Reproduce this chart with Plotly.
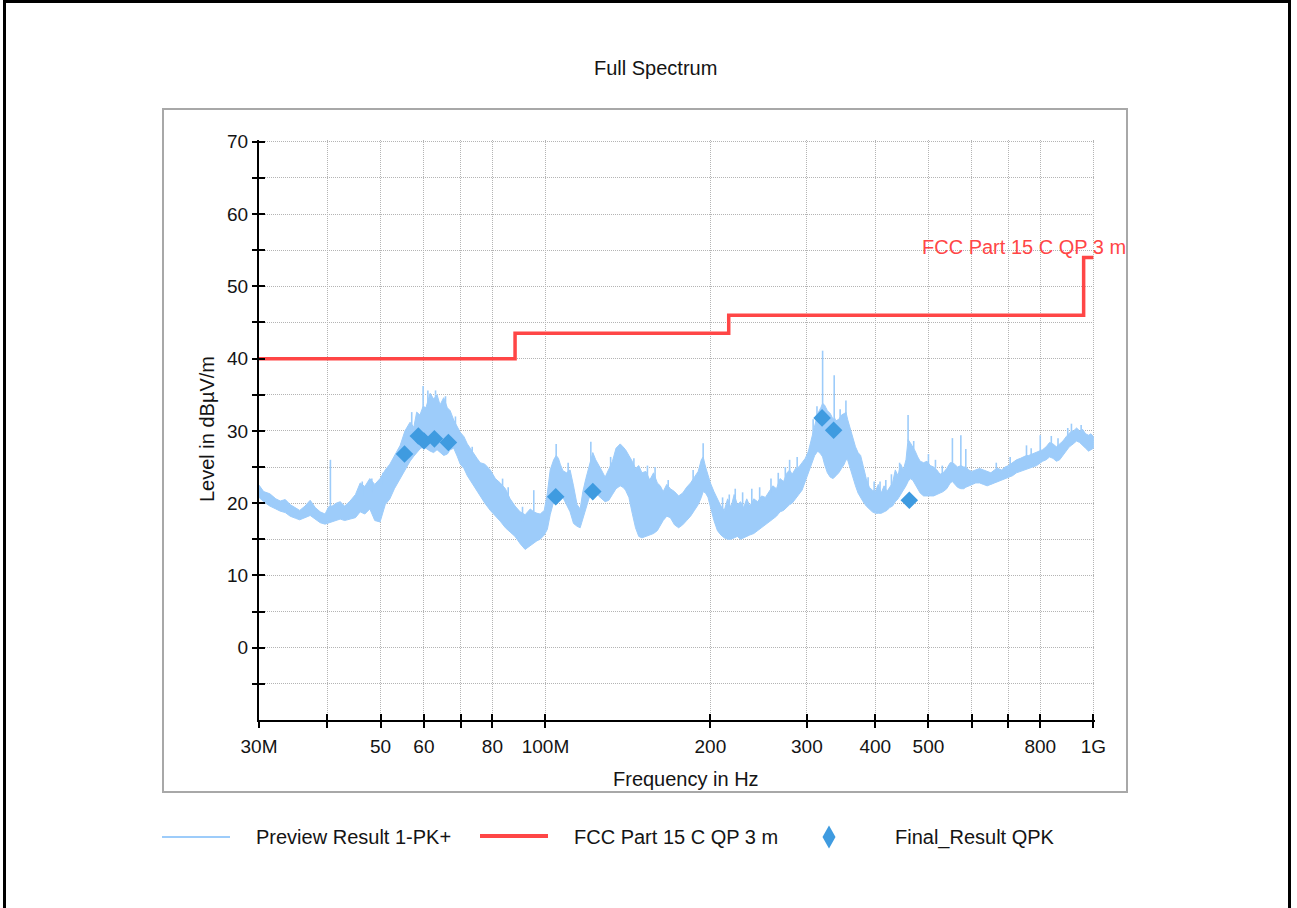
import math
import plotly.graph_objects as go

# ---- spectrum (peak detector), band drawn between lower / upper level per frequency ----
freq_mhz = [
    30.0, 30.6, 31.4, 32.2, 32.8, 33.5, 34.2, 35.0, 35.6, 36.4, 37.2, 38.0, 38.8, 39.6, 40.2,
    40.8, 41.5, 42.2, 43.0, 44.0, 45.0, 45.9, 46.8, 47.8, 48.8, 49.9, 51.0, 52.0, 53.0, 54.3,
    55.4, 56.6, 57.5, 58.2, 59.0, 59.8, 60.5, 61.6, 62.5, 63.4, 64.2, 65.2, 66.2, 67.0, 68.0,
    69.0, 69.9, 71.0, 72.0, 72.9, 74.0, 75.0, 76.0, 77.5, 79.3, 81.0, 82.7, 84.5, 86.2, 88.0,
    89.9, 91.8, 93.8, 95.2, 96.5, 97.8, 99.5, 100.8, 102.0, 103.5, 104.6, 105.6, 106.4, 107.6, 109.2,
    110.9, 112.5, 114.2, 115.7, 117.0, 118.5, 120.0, 121.0, 122.0, 123.5, 125.0, 126.5, 128.5, 130.5, 132.5,
    134.5, 136.9, 138.5, 140.0, 142.0, 144.0, 146.0, 148.0, 150.0, 152.5, 155.0, 157.5, 160.0, 162.0, 164.0,
    166.5, 169.0, 172.0, 175.0, 178.0, 181.0, 184.0, 187.0, 190.0, 192.5, 194.0, 196.0, 198.0, 200.0, 203.0,
    206.0, 209.0, 212.0, 215.0, 218.0, 221.0, 224.0, 227.0, 230.0, 233.0, 236.0, 240.0, 244.0, 248.0, 252.0,
    256.0, 260.0, 264.0, 268.0, 272.0, 276.0, 279.0, 282.0, 286.0, 290.0, 294.0, 298.0, 302.0, 306.0, 310.0,
    314.0, 318.0, 320.5, 323.0, 327.0, 331.0, 335.0, 337.0, 339.0, 343.0, 347.0, 351.0, 353.5, 356.0, 360.0,
    364.0, 368.0, 372.0, 376.0, 380.0, 385.0, 390.0, 395.0, 400.0, 405.0, 410.0, 415.0, 420.0, 425.0, 430.0,
    435.0, 440.0, 445.0, 450.0, 455.0, 459.0, 463.0, 468.0, 473.0, 478.0, 483.0, 490.0, 497.0, 504.0, 511.0,
    518.0, 525.0, 532.0, 540.0, 548.0, 553.0, 558.0, 565.0, 573.0, 580.0, 585.0, 592.0, 600.0, 610.0, 620.0,
    630.0, 640.0, 650.0, 660.0, 670.0, 680.0, 690.0, 700.0, 712.0, 724.0, 736.0, 748.0, 755.0, 762.0, 775.0,
    788.0, 800.0, 808.0, 820.0, 832.0, 844.0, 856.0, 868.0, 880.0, 892.0, 904.0, 912.0, 920.0, 932.0, 944.0,
    956.0, 968.0, 980.0, 990.0, 1000.0,
]
level_hi = [
    22.5, 21.6, 21.3, 20.6, 20.3, 20.5, 19.8, 19.3, 19.0, 19.6, 20.4, 19.4, 18.8, 18.5, 19.5,
    19.6, 20.0, 20.2, 19.6, 20.3, 21.2, 22.8, 22.3, 23.4, 22.6, 23.4, 24.6, 25.4, 26.5, 28.0,
    30.0, 31.2, 30.5, 32.6, 32.2, 33.4, 33.2, 35.2, 34.4, 35.0, 33.6, 34.6, 33.2, 32.8, 31.5,
    30.5, 29.8, 29.2, 28.2, 27.6, 26.8, 26.2, 25.6, 25.4, 24.6, 23.4, 22.8, 22.0, 20.6, 19.6,
    18.8, 18.4, 19.2, 18.8, 18.6, 18.5, 19.0, 21.4, 24.6, 26.0, 26.6, 26.2, 25.4, 24.5, 24.2,
    24.6, 22.4, 19.8, 19.2, 21.6, 23.4, 25.0, 26.0, 27.0, 26.0, 25.2, 24.6, 23.6, 24.6, 25.8,
    27.6, 28.2, 27.8, 27.4, 26.6, 25.8, 24.8, 25.2, 24.2, 24.4, 23.2, 24.2, 22.8, 22.4, 21.6,
    22.6, 22.0, 21.6, 21.0, 21.4, 22.2, 22.8, 23.6, 24.4, 26.0, 26.4, 25.0, 23.8, 22.8, 21.6,
    20.6, 19.6, 19.0, 20.6, 19.4, 21.2, 19.8, 20.2, 19.4, 20.6, 19.6, 20.6, 20.2, 21.0, 20.8,
    21.6, 22.4, 22.0, 23.4, 23.0, 24.2, 24.6, 24.0, 24.8, 25.0, 25.6, 26.2, 27.2, 29.0, 31.0,
    32.4, 33.2, 33.8, 33.6, 32.8, 32.4, 31.6, 31.8, 31.4, 31.6, 32.2, 32.4, 32.6, 31.6, 30.4,
    29.0, 27.8, 27.0, 26.6, 25.2, 23.4, 22.2, 21.8, 21.6, 22.6, 21.4, 22.4, 21.6, 22.2, 22.8,
    24.6, 23.8, 25.4, 24.6, 26.0, 28.8, 28.4, 27.8, 27.2, 26.4, 25.8, 25.6, 25.8, 25.2, 25.0,
    24.6, 24.0, 24.2, 24.8, 25.6, 25.6, 25.4, 25.0, 25.2, 25.0, 25.0, 24.6, 24.4, 24.6, 24.8,
    24.6, 24.4, 24.2, 24.6, 24.8, 24.6, 25.0, 25.2, 25.6, 26.0, 26.2, 26.4, 26.6, 26.6, 26.8,
    27.0, 27.2, 27.4, 27.8, 28.4, 28.2, 27.8, 28.2, 28.6, 29.2, 29.6, 30.0, 30.0, 30.4, 30.0,
    30.2, 29.6, 29.4, 29.6, 29.2,
]
level_lo = [
    20.8, 20.2, 19.6, 19.2, 18.9, 18.7, 18.2, 17.9, 17.7, 18.0, 18.3, 17.8, 17.3, 17.1, 17.2,
    17.4, 17.6, 17.8, 17.6, 17.8, 18.0, 18.8, 18.5, 19.2, 17.6, 17.4, 19.8, 20.6, 22.0, 23.4,
    24.5, 25.8, 26.5, 27.0, 27.5, 27.8, 27.6, 27.2, 27.0, 27.4, 27.0, 26.6, 26.8, 27.4, 27.6,
    26.5, 25.4, 24.8, 23.8, 23.2, 22.4, 21.6, 21.0, 20.0, 19.0, 18.2, 17.5, 16.6, 16.0, 15.4,
    14.4, 13.6, 14.2, 14.5, 14.8, 15.0, 15.6, 16.4, 18.4, 20.2, 20.6, 20.8, 21.0, 20.8, 19.8,
    18.8, 17.2, 16.8, 16.6, 17.6, 19.2, 20.6, 21.2, 21.4, 21.6, 21.0, 20.6, 20.2, 20.4, 21.2,
    22.0, 22.4, 22.2, 21.8, 20.8, 18.6, 16.6, 15.4, 15.2, 15.4, 15.6, 15.8, 16.2, 16.8, 17.6,
    18.2, 18.0, 17.0, 16.6, 17.0, 17.6, 18.2, 19.0, 19.8, 20.8, 21.6, 21.4, 20.8, 19.4, 17.6,
    16.2, 15.6, 15.2, 15.0, 15.0, 15.2, 15.4, 15.0, 15.2, 15.4, 15.6, 15.8, 16.2, 16.6, 17.0,
    17.4, 17.8, 18.2, 18.8, 19.0, 19.4, 19.8, 20.0, 20.6, 21.2, 21.8, 22.8, 24.0, 25.4, 26.6,
    27.2, 26.8, 26.4, 25.4, 24.2, 23.6, 23.4, 23.6, 23.8, 24.2, 24.8, 25.4, 26.0, 26.0, 25.0,
    23.6, 22.4, 21.4, 20.8, 20.2, 19.6, 19.2, 18.8, 18.6, 18.6, 18.6, 18.8, 19.0, 19.4, 19.6,
    20.2, 20.6, 21.2, 21.8, 22.4, 23.0, 23.4, 23.2, 22.6, 22.0, 21.4, 21.0, 21.0, 21.0, 21.0,
    21.2, 21.4, 21.6, 22.0, 22.8, 23.0, 22.6, 22.2, 22.0, 22.0, 22.2, 22.4, 22.6, 22.8, 22.8,
    22.6, 22.4, 22.6, 22.8, 23.0, 23.2, 23.4, 23.6, 23.8, 24.2, 24.4, 24.6, 24.8, 24.8, 25.0,
    25.2, 25.6, 25.8, 26.0, 26.4, 26.2, 25.8, 26.0, 26.6, 27.2, 27.8, 28.0, 28.2, 28.6, 28.4,
    28.0, 27.6, 27.2, 27.4, 27.6,
]

# narrow single-frequency emissions rising above the band
spike_freq = [
    40.5, 46.3, 48.2, 50.5, 57.0, 59.8, 61.0, 63.0, 65.7, 68.5, 73.5, 83.5, 85.5, 90.8, 95.2,
    104.6, 110.0, 121.0, 131.5, 145.0, 153.5, 158.5, 167.5, 186.0, 194.0, 210.5, 216.5, 222.0,
    229.0, 238.0, 246.0, 258.0, 266.0, 274.0, 279.0, 288.0, 308.0, 313.0, 320.5, 336.5, 345.0,
    353.5, 388.0, 398.0, 408.0, 418.0, 428.0, 443.0, 459.0, 470.0, 500.0, 515.0, 530.0, 553.0,
    573.0, 585.0, 665.0, 705.0, 755.0, 770.0, 800.0, 838.0, 862.0, 898.0, 912.0, 950.0,
]
spike_base = [
    19.5, 21.0, 21.5, 22.5, 29.5, 33.0, 33.0, 33.5, 32.8, 30.0, 26.0, 21.5, 20.5, 17.5, 18.8,
    26.0, 23.8, 25.5, 24.5, 24.5, 23.5, 23.0, 21.8, 23.0, 25.0, 19.0, 19.5, 19.8,
    19.6, 19.8, 20.2, 21.4, 22.4, 23.4, 24.5, 24.8, 29.5, 31.8, 33.5, 31.6, 31.6,
    32.2, 22.0, 21.5, 21.6, 21.8, 22.4, 24.0, 28.5, 27.4, 25.4, 24.8, 24.0, 25.4,
    25.0, 25.0, 24.6, 25.2, 26.4, 26.6, 27.0, 28.2, 27.8, 29.2, 30.0, 30.0,
]
spike_peak = [
    26.0, 23.0, 23.4, 24.2, 32.6, 36.2, 35.6, 35.6, 34.8, 32.0, 27.8, 23.4, 22.2, 19.5, 21.8,
    28.2, 25.6, 28.5, 26.4, 26.2, 25.2, 25.0, 23.2, 24.6, 28.3, 20.8, 21.2, 22.0,
    21.5, 22.0, 22.2, 23.4, 24.2, 25.0, 26.0, 26.4, 31.6, 33.4, 41.1, 37.7, 33.0,
    34.2, 23.6, 23.0, 23.0, 23.2, 24.0, 25.6, 32.2, 28.6, 26.8, 26.0, 25.2, 29.0,
    29.4, 27.5, 25.6, 26.4, 28.0, 27.6, 29.4, 29.3, 29.0, 30.4, 31.0, 30.8,
]

# FCC Part 15 C quasi-peak limit, 3 m
limit_freq = [30, 88, 216, 960, 1000]
limit_level = [40, 43.5, 46, 54, 54]

# final quasi-peak measurements
qpk_freq = [55.3, 58.6, 60.0, 62.7, 66.5, 104.4, 122.0, 319.8, 335.7, 461.4]
qpk_level = [26.8, 29.3, 28.6, 28.9, 28.4, 20.9, 21.6, 31.8, 30.1, 20.4]

x_tickvals = [30, 40, 50, 60, 70, 80, 100, 200, 300, 400, 500, 600, 700, 800, 1000]
x_ticktext = ["30M", "", "50", "60", "", "80", "100M", "200", "300", "400", "500", "", "", "800", "1G"]
y_tickvals = list(range(-5, 75, 5))
y_ticktext = [str(v) if v % 10 == 0 else "" for v in y_tickvals]

# ---- page geometry (pixels) ----
W, H = 1297, 908
PL, PR, PT, PB = 259, 1095, 140, 720
FONT = "Liberation Sans, Arial, sans-serif"
TXT = "#141414"
BLUE_LIGHT = "#9dccfa"
RED = "#ff4646"
BLUE = "#3f9be0"


def px_x(px):
    return (px - PL) / (PR - PL)


def px_y(py):
    return (PB - py) / (PB - PT)


fig = go.Figure()

# preview band
fig.add_trace(go.Scatter(
    x=freq_mhz + freq_mhz[::-1], y=level_hi + level_lo[::-1],
    mode="lines", fill="toself", fillcolor=BLUE_LIGHT,
    line=dict(color=BLUE_LIGHT, width=1), name="Preview Result 1-PK+",
    showlegend=False, hoverinfo="skip",
))
sx, sy = [], []
for f, b, p in zip(spike_freq, spike_base, spike_peak):
    sx += [f, f, None]
    sy += [b, p, None]
fig.add_trace(go.Scatter(
    x=sx, y=sy, mode="lines", line=dict(color=BLUE_LIGHT, width=1.6),
    showlegend=False, hoverinfo="skip",
))

# limit line
fig.add_trace(go.Scatter(
    x=limit_freq, y=limit_level, mode="lines", line=dict(color=RED, width=3.5, shape="hv"),
    name="FCC Part 15 C QP 3 m", showlegend=False,
))

# final results
fig.add_trace(go.Scatter(
    x=qpk_freq, y=qpk_level, mode="markers",
    marker=dict(symbol="diamond", size=13.5, color=BLUE, line=dict(width=0)),
    name="Final_Result QPK", showlegend=False,
))

# overlay axes carrying the other half of the crossing tick marks
fig.add_trace(go.Scatter(
    x=limit_freq, y=limit_level, xaxis="x2", yaxis="y2", mode="none",
    showlegend=False, hoverinfo="skip",
))

x_range = [math.log10(30), 3.003]
y_range = [-10, 70.25]
tickfont = dict(family=FONT, size=19, color=TXT)

fig.update_layout(
    width=W, height=H,
    margin=dict(l=PL, r=W - PR, t=PT, b=H - PB, pad=0),
    paper_bgcolor="white", plot_bgcolor="white",
    showlegend=False,
    xaxis=dict(
        type="log", range=x_range, tickmode="array", tickvals=x_tickvals, ticktext=x_ticktext,
        ticks="outside", ticklen=6, tickwidth=2, tickcolor="black",
        showline=True, linecolor="black", linewidth=2,
        showgrid=True, gridcolor="#b4b4b4", gridwidth=1, griddash="1px,1px",
        zeroline=False, tickfont=tickfont, ticklabelstandoff=2,
    ),
    yaxis=dict(
        range=y_range, tickmode="array", tickvals=y_tickvals, ticktext=y_ticktext,
        ticks="inside", ticklen=6, tickwidth=2, tickcolor="black",
        showline=True, linecolor="black", linewidth=2,
        showgrid=True, gridcolor="#b4b4b4", gridwidth=1, griddash="1px,1px",
        zeroline=False, tickfont=tickfont, ticklabelstandoff=5,
    ),
    xaxis2=dict(
        type="log", range=x_range, overlaying="x", anchor="y2", side="bottom",
        tickmode="array", tickvals=x_tickvals, ticks="inside", ticklen=6, tickwidth=2,
        tickcolor="black", showticklabels=False, showgrid=False, showline=False, zeroline=False,
    ),
    yaxis2=dict(
        range=y_range, overlaying="y", anchor="x2", side="left",
        tickmode="array", tickvals=y_tickvals, ticks="outside", ticklen=6, tickwidth=2,
        tickcolor="black", showticklabels=False, showgrid=False, showline=False, zeroline=False,
    ),
)

shapes = [
    # outer frame
    dict(type="rect", xref="paper", yref="paper", x0=px_x(4.5), x1=px_x(1289.5),
         y0=px_y(1.5), y1=px_y(920), line=dict(color="black", width=3), layer="below"),
    # chart panel
    dict(type="rect", xref="paper", yref="paper", x0=px_x(163), x1=px_x(1127),
         y0=px_y(109), y1=px_y(792), line=dict(color="#a8a8a8", width=2), layer="below"),
    # legend samples
    dict(type="line", xref="paper", yref="paper", x0=px_x(162), x1=px_x(230),
         y0=px_y(837), y1=px_y(837), line=dict(color=BLUE_LIGHT, width=2)),
    dict(type="line", xref="paper", yref="paper", x0=px_x(480), x1=px_x(548),
         y0=px_y(836), y1=px_y(836), line=dict(color=RED, width=4)),
]
cx, cy, hw, hh = 829, 837, 6.5, 11.5
shapes.append(dict(
    type="path", xref="paper", yref="paper",
    path="M {a},{b} L {c},{d} L {a},{e} L {f},{d} Z".format(
        a=px_x(cx), b=px_y(cy - hh), c=px_x(cx + hw), d=px_y(cy), e=px_y(cy + hh), f=px_x(cx - hw)),
    fillcolor=BLUE, line=dict(width=0),
))

font20 = dict(family=FONT, size=20, color=TXT)
annotations = [
    dict(text="Full Spectrum", xref="paper", yref="paper", x=px_x(655), y=px_y(68),
         xanchor="center", yanchor="middle", showarrow=False, font=font20),
    dict(text="Frequency in Hz", xref="paper", yref="paper", x=px_x(686), y=px_y(779),
         xanchor="center", yanchor="middle", showarrow=False, font=font20),
    dict(text="Level in dBµV/m", xref="paper", yref="paper", x=px_x(207), y=px_y(429),
         xanchor="center", yanchor="middle", textangle=-90, showarrow=False, font=font20),
    dict(text="Preview Result 1-PK+", xref="paper", yref="paper", x=px_x(254), y=px_y(837),
         xanchor="left", yanchor="middle", showarrow=False, font=font20),
    dict(text="FCC Part 15 C QP 3 m", xref="paper", yref="paper", x=px_x(572), y=px_y(837),
         xanchor="left", yanchor="middle", showarrow=False, font=font20),
    dict(text="Final_Result QPK", xref="paper", yref="paper", x=px_x(893), y=px_y(837),
         xanchor="left", yanchor="middle", showarrow=False, font=font20),
    dict(text="FCC Part 15 C QP 3 m", xref="x", yref="y", x=math.log10(limit_freq[-1]),
         y=limit_level[-1], xanchor="right", yanchor="bottom", xshift=35, yshift=-3,
         showarrow=False, font=dict(family=FONT, size=20, color=RED)),
]
fig.update_layout(shapes=shapes, annotations=annotations)

fig.write_html("out.html")
